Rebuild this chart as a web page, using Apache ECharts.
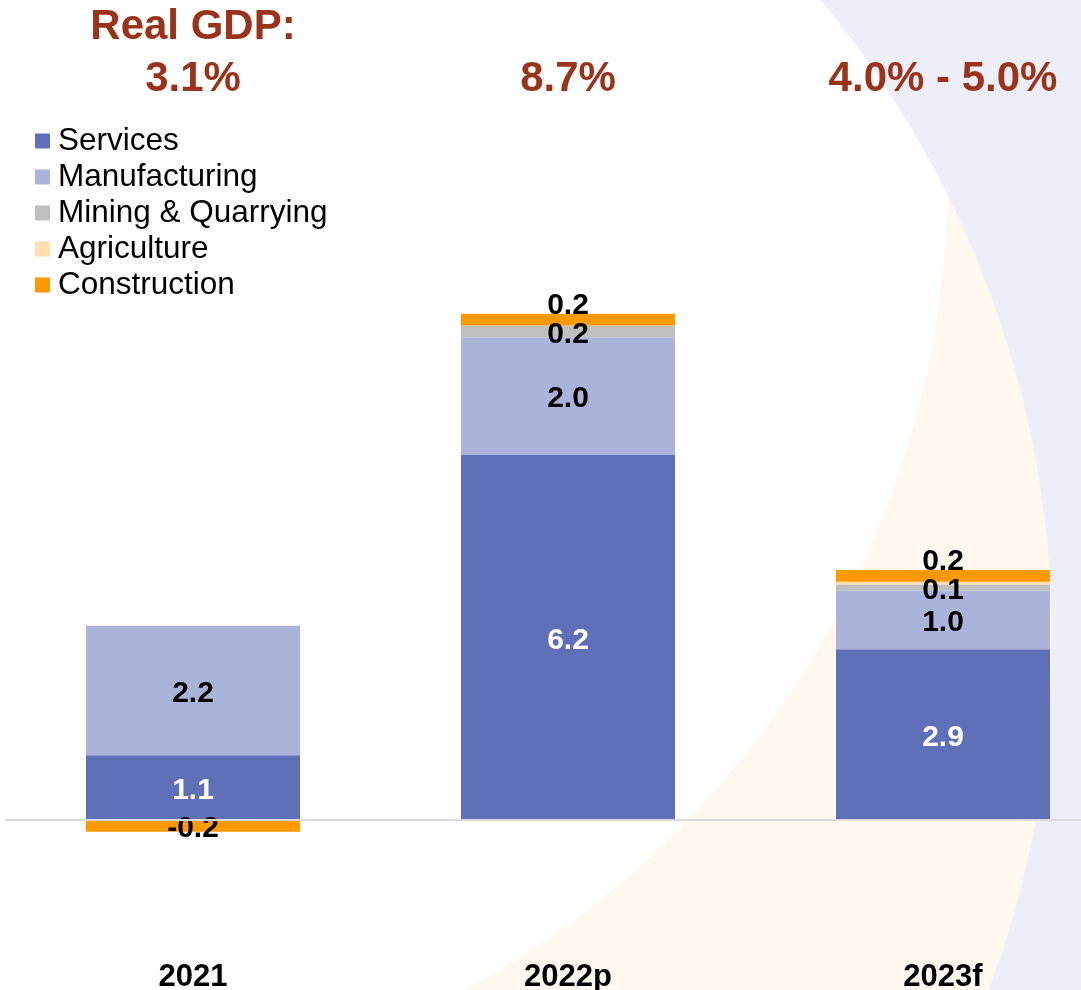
<!DOCTYPE html>
<html>
<head>
<meta charset="utf-8">
<title>Real GDP growth by sector</title>
<script src="https://cdn.jsdelivr.net/npm/echarts/dist/echarts.min.js"></script>
<style>
  html, body { margin: 0; padding: 0; background: #ffffff; }
  #chart { width: 1081px; height: 990px; }
</style>
</head>
<body>
<div id="chart"></div>
<script>
// Contribution to real GDP growth (percentage points) by sector
const categories = ['2021', '2022p', '2023f'];
const gdpGrowth = ['3.1%', '8.7%', '4.0% - 5.0%'];
const gdpHeading = 'Real GDP:';

const services = [1.1, 6.2, 2.9];
const manufacturing = [2.2, 2.0, 1.0];
const mining = [null, 0.2, 0.1];
const agriculture = [null, null, 0.05];
const construction = [-0.2, 0.2, 0.2];

const seriesNames = ['Services', 'Manufacturing', 'Mining & Quarrying', 'Agriculture', 'Construction'];
const seriesColors = ['#6070B8', '#AAB4DA', '#BFBFBF', '#FFDFB2', '#FF9900'];

const FONT = '"Liberation Sans", Arial, Helvetica, sans-serif';
const TITLE_RED = '#9B331A';

const valueText = (p) => (p.value == null || p.value === 0) ? '' : Number(p.value).toFixed(1);

function barSeries(name, values, color, labelColor, showLabel) {
  return {
    name: name,
    type: 'bar',
    stack: 'total',
    barWidth: 214,
    itemStyle: { color: color },
    data: values.slice(),
    label: {
      show: showLabel,
      position: 'inside',
      offset: [0, 3],
      color: labelColor,
      fontFamily: FONT,
      fontWeight: 'bold',
      fontSize: 30,
      formatter: valueText
    }
  };
}

const chart = echarts.init(document.getElementById('chart'), null, { renderer: 'canvas' });

const constructionSeries = barSeries(seriesNames[4], construction, seriesColors[4], '#000000', true);
// positive construction labels sit just above the stack, negative ones inside the bar
constructionSeries.data = construction.map(v => ({
  value: v,
  label: { position: v < 0 ? 'inside' : 'top', distance: -4 }
}));

const servicesSeries = barSeries(seriesNames[0], services, seriesColors[0], '#ffffff', true);
servicesSeries.markLine = {
  silent: true,
  symbol: 'none',
  label: { show: false },
  lineStyle: { color: '#DADADA', width: 2, type: 'solid' },
  data: [{ yAxis: 0 }]
};

const option = {
  animation: false,
  backgroundColor: '#ffffff',
  textStyle: { fontFamily: FONT },
  graphic: [
    // cream crescent between two large arcs, white disc, lavender outside
    { type: 'circle', silent: true, z: -10, shape: { cx: 52, cy: 640, r: 1000 }, style: { fill: '#FEF8EE' } },
    { type: 'circle', silent: true, z: -9, shape: { cx: 17, cy: 174, r: 931 }, style: { fill: '#ffffff' } },
    { type: 'ring', silent: true, z: -8, shape: { cx: 52, cy: 640, r0: 1000, r: 3000 }, style: { fill: '#ECEFF7' } }
  ],
  legend: {
    orient: 'vertical',
    left: 35,
    top: 125,
    padding: 0,
    itemGap: 4,
    itemWidth: 15,
    itemHeight: 15,
    icon: 'rect',
    data: seriesNames,
    textStyle: { color: '#000000', fontSize: 31.5, fontFamily: FONT, lineHeight: 32, padding: [0, 0, 0, 3] }
  },
  grid: {
    left: 5.5,
    width: 1125,
    top: 231.4,
    height: 706.4,
    containLabel: false,
    outerBoundsMode: 'none'
  },
  xAxis: [
    {
      type: 'category',
      data: categories,
      position: 'bottom',
      axisLine: { show: false, onZero: false },
      axisTick: { show: false },
      axisLabel: {
        margin: 24,
        color: '#000000',
        fontFamily: FONT,
        fontWeight: 'bold',
        fontSize: 31
      }
    },
    {
      type: 'category',
      data: gdpGrowth,
      position: 'top',
      axisLine: { show: false, onZero: false },
      axisTick: { show: false },
      axisLabel: {
        margin: 126,
        color: TITLE_RED,
        fontFamily: FONT,
        fontWeight: 'bold',
        fontSize: 42,
        lineHeight: 52,
        formatter: (v, i) => i === 0 ? gdpHeading + '\n' + v : v
      }
    }
  ],
  yAxis: {
    type: 'value',
    show: false,
    min: -2,
    max: 10,
    interval: 2,
    splitLine: { show: false }
  },
  series: [
    servicesSeries,
    barSeries(seriesNames[1], manufacturing, seriesColors[1], '#000000', true),
    barSeries(seriesNames[2], mining, seriesColors[2], '#000000', true),
    barSeries(seriesNames[3], agriculture, seriesColors[3], '#000000', false),
    constructionSeries
  ]
};

chart.setOption(option);
</script>
</body>
</html>
